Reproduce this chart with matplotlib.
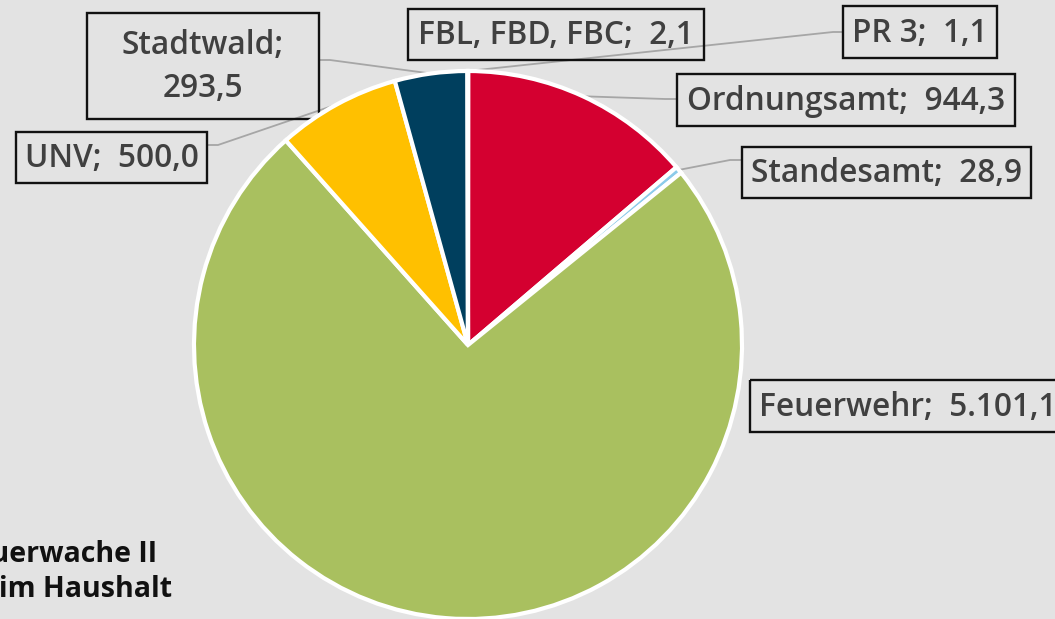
import numpy as np
import matplotlib
matplotlib.use("Agg")
import matplotlib.pyplot as plt
from matplotlib.patches import Rectangle

# ---- data (clockwise from 12 o'clock) ----
names = ["PR 3", "Ordnungsamt", "Standesamt", "Feuerwehr", "UNV", "Stadtwald", "FBL, FBD, FBC"]
values = [1.1, 944.3, 28.9, 5101.1, 500.0, 293.5, 2.1]
colors = ["#8c8c8c", "#d40030", "#8ccbea", "#a9c05f", "#ffc000", "#003f5e", "#7f7f7f"]
note_lines = ["Feuerwache II", "im Haushalt"]

W, H = 1055, 619
BG = "#e3e3e3"
plt.rcParams['font.family'] = ['Open Sans', 'DejaVu Sans']

fig = plt.figure(figsize=(W / 100, H / 100), dpi=100, facecolor=BG)
ax = fig.add_axes([0, 0, 1, 1])
ax.set_xlim(0, W)
ax.set_ylim(H, 0)  # pixel-like coords, y down
ax.axis("off")
ax.set_facecolor(BG)

cx, cy, R = 468, 345, 274

# pie drawn in a separate axes with normal orientation
pax = fig.add_axes([(cx - R) / W, (H - cy - R) / H, 2 * R / W, 2 * R / H])
wedges, _ = pax.pie(values, colors=colors, startangle=90, counterclock=False, radius=1.0,
                    wedgeprops=dict(edgecolor="white", linewidth=3.0))
pax.set_xlim(-1, 1)
pax.set_ylim(-1, 1)
pax.set_aspect("auto")
pax.axis("off")
for w in wedges:
    w.set_clip_on(False)


def fmt(v):
    s = f"{v:,.1f}"
    return s.replace(",", "X").replace(".", ",").replace("X", ".")


def edge_point(i, r=1.0):
    w = wedges[i]
    ang = np.deg2rad((w.theta1 + w.theta2) / 2)
    return cx + R * r * np.cos(ang), cy - R * r * np.sin(ang)


# label layout: (box x0, y0, x1, y1), leader knee + attach
labels = {
    "PR 3": dict(box=(843, 6, 997, 58), knee=[(833, 32), (843, 32)]),
    "Ordnungsamt": dict(box=(677, 74, 1015, 126), knee=[(665, 99), (677, 99)]),
    "Standesamt": dict(box=(742, 147, 1031, 198), knee=[(730, 160), (742, 160)]),
    "Feuerwehr": dict(box=(750, 380, 1075, 432), knee=None),
    "UNV": dict(box=(16, 132, 207, 183), knee=[(218, 145), (207, 145)]),
    "Stadtwald": dict(box=(87, 13, 319, 119), knee=[(330, 60), (319, 60)], two=True),
    "FBL, FBD, FBC": dict(box=(408, 9, 704, 60), knee=None),
}

FS = 22.8
WT = "semibold"
lead_col = "#a6a6a6"
for i, (n, v) in enumerate(zip(names, values)):
    L = labels[n]
    if L["knee"] is not None:
        px, py = edge_point(i, 1.0)
        xs = [px] + [k[0] for k in L["knee"]]
        ys = [py] + [k[1] for k in L["knee"]]
        ax.plot(xs, ys, color=lead_col, lw=1.3, zorder=2, solid_capstyle="butt")

for i, (n, v) in enumerate(zip(names, values)):
    L = labels[n]
    x0, y0, x1, y1 = L["box"]
    ax.add_patch(Rectangle((x0, y0), x1 - x0, y1 - y0, fill=False, edgecolor="#111111",
                           lw=1.7, zorder=3, clip_on=False))
    if L.get("two"):
        txt = f"{n};\n{fmt(v)}"
        ax.text((x0 + x1) / 2, (y0 + y1) / 2 + 1, txt, ha="center", va="center",
                fontsize=FS, fontweight=WT, color="#404040", linespacing=1.4, zorder=4)
    elif n == "Feuerwehr":
        ax.text(x0 + 9, (y0 + y1) / 2 + 1, f"{n};  {fmt(v)}", ha="left", va="center",
                fontsize=FS, fontweight=WT, color="#404040", zorder=4)
    else:
        ax.text((x0 + x1) / 2, (y0 + y1) / 2 + 1, f"{n};  {fmt(v)}", ha="center", va="center",
                fontsize=FS, fontweight=WT, color="#404040", zorder=4)

# bottom-left note (partly cut off at the left edge, as in the reference)
ax.text(157, 562, note_lines[0], ha="right", va="baseline", fontsize=20.5,
        fontweight="bold", color="#111111")
ax.text(172, 597, note_lines[1], ha="right", va="baseline", fontsize=20.5,
        fontweight="bold", color="#111111")

fig.savefig("out.png", dpi=100, facecolor=BG)
